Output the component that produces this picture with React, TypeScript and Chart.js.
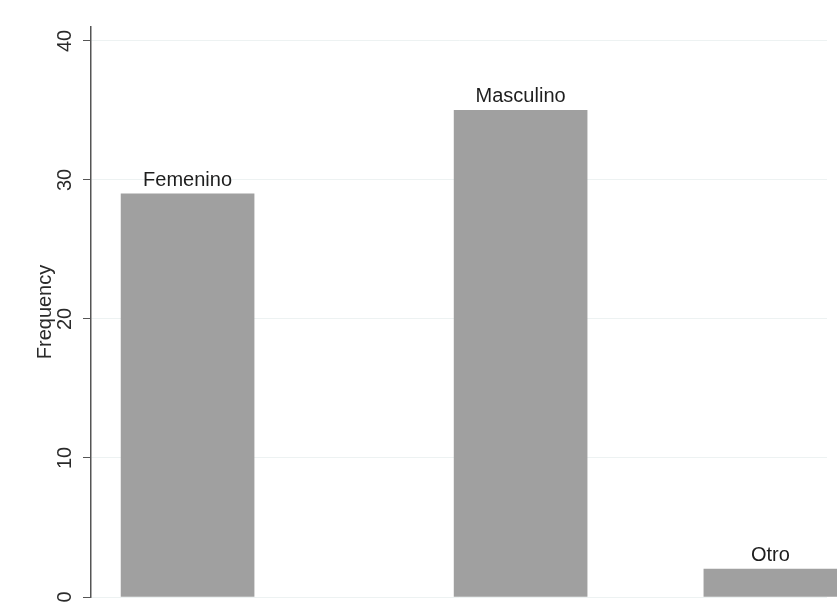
import React, { useEffect, useRef } from "react";
import { Chart, registerables } from "chart.js";

Chart.register(...registerables);

const categories = ["Femenino", "Masculino", "Otro"];
const frequencies = [29, 35, 2];
const slots = [0, 1, 1.75];
const yTicks = [0, 10, 20, 30, 40];

const FONT = "'Liberation Sans', Arial, sans-serif";

const barLabels = {
  id: "barLabels",
  afterDatasetsDraw(chart: any) {
    const ctx = chart.ctx;
    const meta = chart.getDatasetMeta(0);
    ctx.save();
    ctx.font = `20px ${FONT}`;
    ctx.fillStyle = "#1e1e1e";
    ctx.textAlign = "center";
    ctx.textBaseline = "alphabetic";
    meta.data.forEach((el: any, i: number) => {
      ctx.fillText(categories[i], el.x, el.y - 8);
    });
    ctx.restore();
  },
};

export default function App() {
  const ref = useRef<HTMLCanvasElement | null>(null);
  useEffect(() => {
    if (!ref.current) return;
    const chart = new Chart(ref.current, {
      type: "bar",
      data: {
        datasets: [
          {
            data: frequencies.map((v, i) => ({ x: slots[i], y: v })),
            backgroundColor: "#a0a0a0",
            borderWidth: 0,
            barThickness: 133,
            clip: false as any,
          },
        ],
      },
      options: {
        animation: false,
        responsive: false,
        devicePixelRatio: 1,
        layout: { padding: { left: 0, top: 27, right: 10, bottom: 16 } },
        plugins: { legend: { display: false }, tooltip: { enabled: false } },
        scales: {
          x: { type: "linear", display: false, offset: false, min: -0.29, max: 1.92, grid: { offset: false } },
          y: {
            min: 0,
            max: 41,
            afterBuildTicks: (s: any) => {
              s.ticks = yTicks.map((v) => ({ value: v }));
            },
            afterFit: (s: any) => {
              s.width = 91;
              s.paddingTop = 0;
              s.paddingBottom = 0;
            },
            grid: { color: "#edf2f2", lineWidth: 1, tickLength: 8, tickColor: "#555" },
            border: { color: "#555", width: 1.5 },
            ticks: {
              minRotation: 90,
              maxRotation: 90,
              crossAlign: "center",
              padding: 6,
              color: "#2a2a2a",
              font: { family: FONT, size: 20 },
            },
            title: {
              display: true,
              text: "Frequency",
              color: "#2a2a2a",
              font: { family: FONT, size: 20 },
              padding: { top: 33, bottom: 0 },
            },
          },
        },
      },
      plugins: [barLabels],
    });
    return () => chart.destroy();
  }, []);
  return (
    <div style={{ position: "fixed", left: 0, top: 0, width: 837, height: 613, background: "#fff" }}>
      <canvas ref={ref} width={837} height={613} />
    </div>
  );
}
